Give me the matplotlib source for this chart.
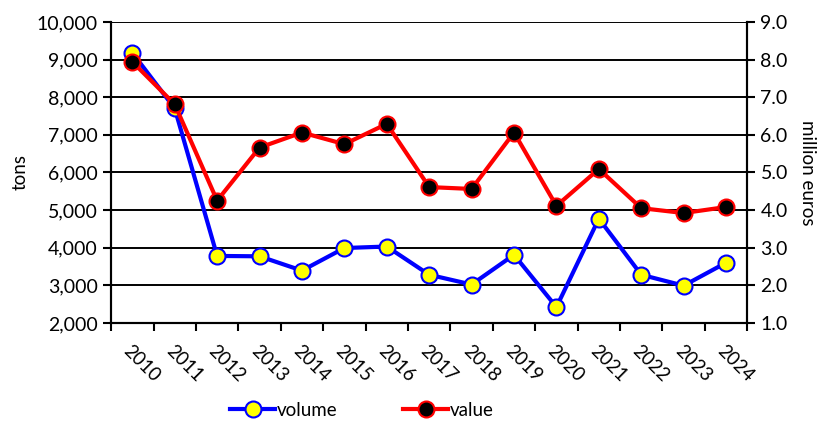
import numpy as np
import matplotlib.pyplot as plt

years = ["2010", "2011", "2012", "2013", "2014", "2015", "2016", "2017",
         "2018", "2019", "2020", "2021", "2022", "2023", "2024"]
volume = [9180, 7700, 3780, 3770, 3390, 3990, 4030, 3280,
          3020, 3810, 2420, 4770, 3280, 2990, 3600]
value = [7.94, 6.81, 4.25, 5.66, 6.06, 5.75, 6.29, 4.61,
         4.56, 6.06, 4.11, 5.09, 4.05, 3.92, 4.08]

plt.rcParams["font.family"] = ["Lato", "DejaVu Sans"]

fig = plt.figure(figsize=(8.23, 4.21), dpi=100)
ax = fig.add_axes([0.135, 0.233, 0.773, 0.715])
ax2 = ax.twinx()

x = np.arange(len(years))
l1, = ax.plot(x, volume, color="#0000ff", lw=3, marker="o", ms=11.5,
              mfc="#ffff00", mec="#0000ff", mew=1.5, label="volume")
l2, = ax2.plot(x, value, color="#ff0000", lw=3, marker="o", ms=11.5,
               mfc="#000000", mec="#ff0000", mew=1.5, label="value")

ax.set_xlim(-0.5, len(years) - 0.5)
ax.set_ylim(2000, 10000)
ax2.set_ylim(1.0, 9.0)
ax.set_yticks(np.arange(2000, 10001, 1000))
ax.set_yticklabels([f"{v:,}" for v in range(2000, 10001, 1000)])
ax2.set_yticks(np.arange(1, 9.01, 1))
ax2.set_yticklabels([f"{v:.1f}" for v in np.arange(1, 9.01, 1)])

ax.set_xticks(np.arange(-0.5, len(years), 1))
ax.set_xticklabels([])
ax.set_xticks(x, minor=True)
ax.set_xticklabels(years, minor=True, rotation=-45, ha="left",
                   rotation_mode="anchor", fontsize=13.5)
ax.tick_params(axis="x", which="major", direction="out", length=6, width=1.5)
ax.tick_params(axis="x", which="minor", length=0, pad=14)
ax.tick_params(axis="y", direction="out", length=6, width=1.5, labelsize=14)
ax2.tick_params(axis="y", direction="out", length=6, width=1.5, labelsize=14)

ax.grid(axis="y", color="black", lw=1.4)
ax.set_axisbelow(True)
for a in (ax, ax2):
    a.spines["top"].set_visible(False)
    for s in ("left", "right", "bottom"):
        a.spines[s].set_linewidth(1.5)

ax.set_ylabel("tons", fontsize=13.5, labelpad=6)
ax2.set_ylabel("million euros", fontsize=13.5, rotation=-90, labelpad=20)

fig.legend(handles=[l1, l2], loc="lower center", bbox_to_anchor=(0.44, -0.035),
           ncol=2, frameon=False, fontsize=13.5, handlelength=2.4,
           columnspacing=3.5, handletextpad=0.1)

fig.savefig("out.png", dpi=100)
